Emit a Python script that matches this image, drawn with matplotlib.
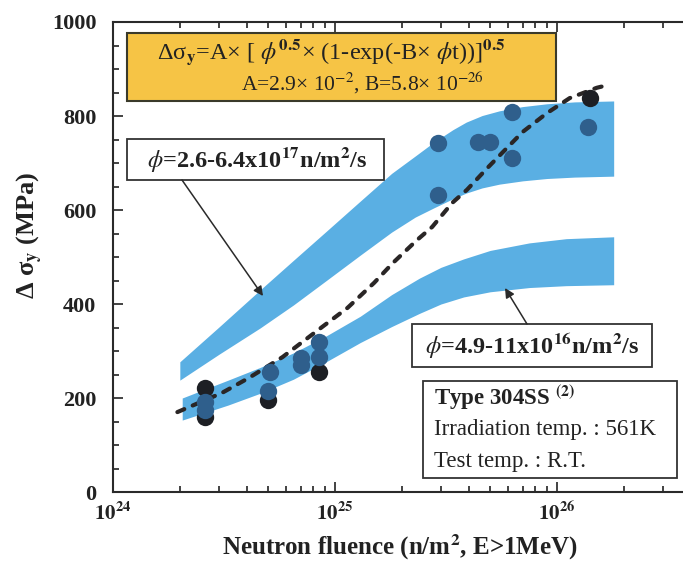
import numpy as np
import matplotlib
matplotlib.use("Agg")
import matplotlib.pyplot as plt
from matplotlib.patches import Rectangle, FancyArrowPatch
from matplotlib.ticker import FixedLocator, FuncFormatter, MultipleLocator

# ---- data -------------------------------------------------------------
# band for phi = 2.6-6.4e17 n/m2/s
upper_band_x = [2.0e24, 3.0e24, 4.6e24, 6.5e24, 9.2e24, 1.3e25, 1.8e25, 2.3e25, 2.8e25,
                3.4e25, 3.9e25, 4.6e25, 5.5e25, 7.0e25, 9.0e25, 1.2e26, 1.8e26]
upper_band_hi = [277, 351, 430, 493, 556, 619, 678, 715, 745,
                 771, 787, 801, 811, 820, 826, 830, 832]
upper_band_lo = [238, 293, 349, 398, 451, 504, 553, 585, 605,
                 624, 636, 647, 655, 662, 667, 670, 672]

# band for phi = 4.9-11e16 n/m2/s
lower_band_x = [2.05e24, 3.3e24, 4.6e24, 6.5e24, 9.2e24, 1.3e25, 1.8e25, 2.4e25, 3.0e25,
                3.8e25, 5.0e25, 7.5e25, 1.1e26, 1.8e26]
lower_band_hi = [200, 238, 265, 296, 333, 374, 420, 455, 478,
                 496, 514, 530, 539, 543]
lower_band_lo = [153, 185, 210, 240, 278, 318, 352, 380, 400,
                 415, 426, 435, 439, 441]

# dashed trend curve
trend_x = [1.95e24, 3.1e24, 4.1e24, 5.8e24, 8.8e24, 1.14e25, 1.5e25, 1.82e25, 2.34e25,
           2.74e25, 3.37e25, 3.93e25, 4.85e25, 5.54e25, 7.0e25, 9.0e25, 1.14e26, 1.51e26, 1.7e26]
trend_y = [170, 211, 243, 287, 352, 392, 445, 487, 536,
           564, 615, 643, 689, 717, 766, 806, 838, 860, 866]

# measured points (Type 304SS)
dark_x = [2.6e24, 2.6e24, 5.0e24, 8.5e24, 1.41e26]
dark_y = [221, 160, 195, 255, 838]
blue_x = [2.6e24, 2.6e24, 5.0e24, 5.1e24, 7.0e24, 7.0e24, 8.5e24, 8.5e24,
          2.9e25, 2.9e25, 4.4e25, 5.0e25, 6.3e25, 6.3e25, 1.38e26]
blue_y = [191, 174, 215, 255, 285, 270, 319, 287,
          743, 632, 745, 745, 809, 711, 777]

y_ticks = [0, 200, 400, 600, 800, 1000]
x_decades = [1e24, 1e25, 1e26]

# ---- figure -----------------------------------------------------------
plt.rcParams["mathtext.fontset"] = "stix"
SERIF = ["Liberation Serif", "DejaVu Serif"]

W, H = 683, 561
fig = plt.figure(figsize=(W / 100, H / 100), dpi=100)


def fx(px):
    return px / W


def fy(py):
    return 1 - py / H


# axes: one decade spans about 222 px, axis runs off the right edge
left_px, bottom_px, top_px = 113, 492, 22
ax = fig.add_axes([fx(left_px), fy(bottom_px), 3 * 222 / W, (bottom_px - top_px) / H])
ax.set_xscale("log")
ax.set_xlim(1e24, 1e27)
ax.set_ylim(0, 1000)

band_color = "#5aafe3"
ax.fill_between(upper_band_x, upper_band_lo, upper_band_hi, color=band_color, lw=0, zorder=1)
ax.fill_between(lower_band_x, lower_band_lo, lower_band_hi, color=band_color, lw=0, zorder=1)

ax.plot(trend_x, trend_y, color="#2a2626", lw=3, linestyle=(0, (1.8, 2.2)),
        dash_capstyle="round", zorder=3)

ax.plot(dark_x, dark_y, "o", ms=12.5, color="#1d1f24", mec="none", zorder=4)
ax.plot(blue_x, blue_y, "o", ms=12.5, color="#2f5f8c", mec="none", zorder=5)

# ticks
ax.yaxis.set_major_locator(FixedLocator(y_ticks))
ax.yaxis.set_minor_locator(MultipleLocator(50))
ax.xaxis.set_major_locator(FixedLocator(x_decades))
ax.xaxis.set_major_formatter(FuncFormatter(lambda v, p: r"$\mathbf{10^{%d}}$" % int(round(np.log10(v)))))
ax.tick_params(which="both", direction="in", top=True, right=False, width=1.2, color="#222")
ax.tick_params(which="major", length=7)
ax.tick_params(which="minor", length=4)
ax.tick_params(axis="y", pad=12)
ax.tick_params(axis="x", pad=7)
for lab in ax.get_yticklabels():
    lab.set_fontfamily(SERIF)
    lab.set_fontweight("bold")
    lab.set_fontsize(16)
    lab.set_color("#222")
for lab in ax.get_xticklabels():
    lab.set_fontsize(15)
    lab.set_color("#222")
for s in ["left", "bottom", "top"]:
    ax.spines[s].set_linewidth(1.5)
    ax.spines[s].set_color("#2a2a2a")
ax.spines["right"].set_visible(False)

# axis titles
fig.text(fx(30), fy(235), "Δ σ$_{\\mathbf{y}}$ (MPa)", rotation=90, ha="center", va="center",
         family=SERIF, weight="bold", fontsize=19, color="#222")
fig.text(fx(400), fy(547), "Neutron fluence (n/m$^{\\mathbf{2}}$, E>1MeV)", ha="center", va="center",
         family=SERIF, weight="bold", fontsize=18, color="#222")


# annotation boxes
def box(l, t, r, b, fc="white", ec="#333", lw=1.3):
    fig.add_artist(Rectangle((fx(l), fy(b)), (r - l) / W, (b - t) / H, transform=fig.transFigure,
                             facecolor=fc, edgecolor=ec, lw=lw, zorder=10))


def arrow(x0, y0, x1, y1):
    fig.add_artist(FancyArrowPatch((fx(x0), fy(y0)), (fx(x1), fy(y1)), transform=fig.transFigure,
                                   arrowstyle="-|>", mutation_scale=14, color="#2a2a2a", lw=1.1,
                                   shrinkA=0, shrinkB=0, zorder=11))


box(127, 33, 556, 101, fc="#f6c445", ec="#3a3a2a", lw=1.5)
fig.text(fx(331), fy(52), r"Δσ$_{\mathbf{y}}$=A× [ $\phi^{\mathbf{0.5}}$× (1-exp(-B× $\phi$t))]$^{\mathbf{0.5}}$",
         ha="center", va="center", family=SERIF, fontsize=17.5, color="#222", zorder=12)
fig.text(fx(362), fy(83), r"A=2.9× 10$^{-2}$, B=5.8× 10$^{-26}$",
         ha="center", va="center", family=SERIF, fontsize=15.5, color="#222", zorder=12)

box(127, 139, 384, 180)
fig.text(fx(257), fy(159), r"$\phi$=2.6-6.4x10$^{\mathbf{17}}$n/m$^{\mathbf{2}}$/s",
         ha="center", va="center", family=SERIF, weight="bold", fontsize=17.5, color="#222", zorder=12)
arrow(182, 180, 263, 296)

box(412, 324, 652, 367)
fig.text(fx(532), fy(346), r"$\phi$=4.9-11x10$^{\mathbf{16}}$n/m$^{\mathbf{2}}$/s",
         ha="center", va="center", family=SERIF, weight="bold", fontsize=17.5, color="#222", zorder=12)
arrow(527, 324, 505, 288)

box(423, 381, 677, 478)
fig.text(fx(434), fy(398), r"Type 304SS $^{\mathbf{(2)}}$", ha="left", va="center",
         family=SERIF, weight="bold", fontsize=16.5, color="#222", zorder=12)
fig.text(fx(434), fy(430), "Irradiation temp. : 561K", ha="left", va="center",
         family=SERIF, fontsize=16.5, color="#222", zorder=12)
fig.text(fx(434), fy(461), "Test temp. : R.T.", ha="left", va="center",
         family=SERIF, fontsize=16.5, color="#222", zorder=12)

fig.savefig("out.png", dpi=100)
